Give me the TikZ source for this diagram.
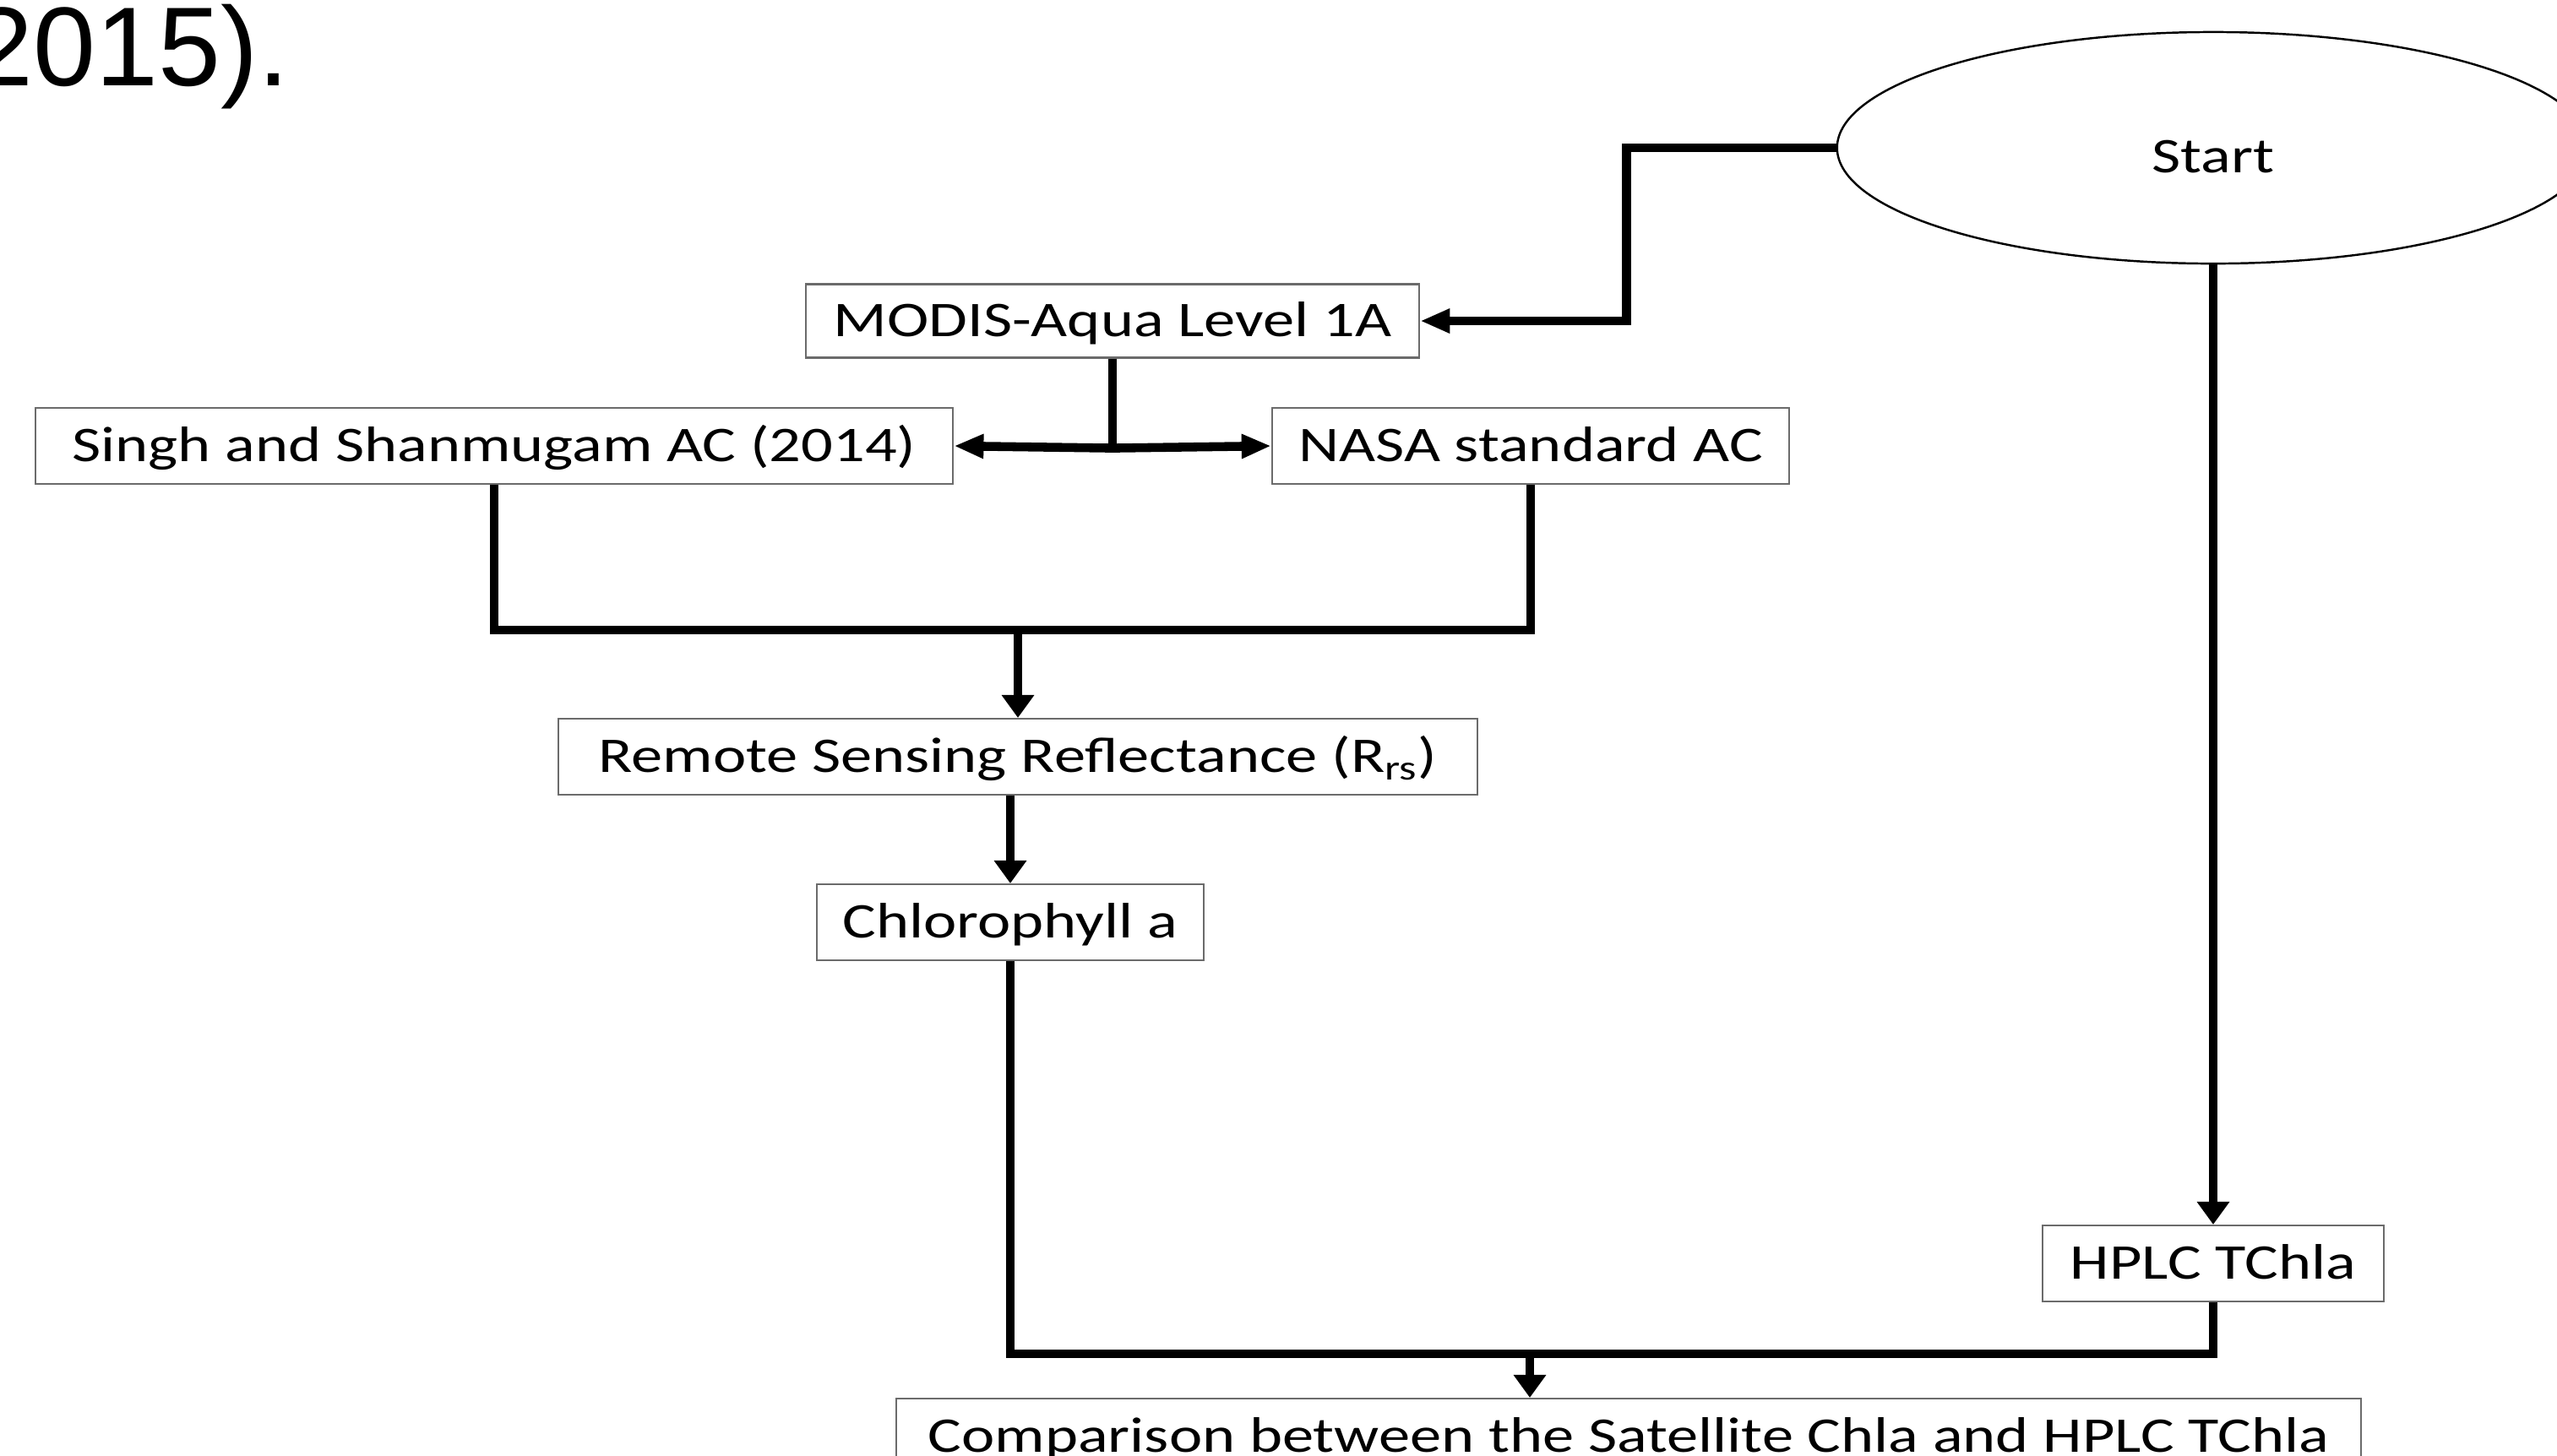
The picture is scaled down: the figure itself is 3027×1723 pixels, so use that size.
\documentclass[tikz,border=0pt]{standalone}
\usepackage{fontspec}
\setmainfont{Carlito}[FakeStretch=1.26]
\newfontfamily\headfont{Liberation Sans}
\usetikzlibrary{arrows.meta,shapes.geometric}
\tikzset{
  procbox/.style  = {draw=black!58, line width=0.6pt, fill=white, inner sep=0pt,
                     minimum height=0.9cm, text height=5mm, text depth=1.3mm,
                     font=\fontsize{16.8}{20}\selectfont},
  startnode/.style = {ellipse, draw=black, line width=0.7pt, inner sep=0pt,
                     minimum width=8.9cm, minimum height=2.74cm,
                     text height=5.8mm, text depth=0pt,
                     font=\fontsize{16.8}{20}\selectfont},
  flowline/.style = {black, line width=3pt},
  harrow/.style   = {flowline, -{Triangle[length=3.5mm,width=2.7mm]}},
  varrow/.style   = {flowline, -{Triangle[length=2.7mm,width=3.7mm]}}
}

\begin{document}
\begin{tikzpicture}[x=0.01cm,y=-0.01cm]
  \useasboundingbox (0,0) rectangle (3027,1723);
  \node[anchor=base west,inner sep=0pt,font=\headfont\fontsize{37.8}{45}\selectfont]
       (caption) at (-35,101) {2015).};
  \node[startnode] (start) at (2620,175) {Start};
  \node[procbox,minimum width=7.26cm,minimum height=0.87cm] (modis) at (1317,380) {MODIS-Aqua Level 1A};
  \node[procbox,minimum width=10.86cm] (singh) at (585,528) {Singh and Shanmugam AC (2014)};
  \node[procbox,minimum width=6.12cm] (nasa) at (1812,528) {NASA standard AC};
  \node[procbox,minimum width=10.87cm] (rrs) at (1205,896) {Remote Sensing Reflectance (R\textsubscript{rs})};
  \node[procbox,minimum width=4.58cm] (chla) at (1196,1092) {Chlorophyll a};
  \node[procbox,minimum width=4.03cm] (hplc) at (2620,1496) {HPLC TChla};
  \node[procbox,minimum width=17.33cm] (comp) at (1928,1701) {Comparison between the Satellite Chla and HPLC TChla};
  % satellite branch
  \draw[harrow] (start.west) -- ++(-248,0) |- (modis.east);
  \draw[flowline] (modis.south) -- ++(0,106) coordinate (split);
  \draw[harrow] (split) -- (singh.east);
  \draw[harrow] (split) -- (nasa.west);
  \draw[flowline] (singh.south) -- ++(0,172) coordinate (merge) -| (nasa.south);
  \draw[varrow] (merge -| rrs.north) -- (rrs.north);
  \draw[varrow] (rrs.south -| chla.north) -- (chla.north);
  % in situ branch
  \draw[varrow] (start.south) -- (hplc.north);
  \draw[flowline] (chla.south) -- ++(0,465) coordinate (join) -| (hplc.south);
  \coordinate (drop) at (1811,1602);
  \draw[varrow] (drop) -- (drop |- comp.north);
\end{tikzpicture}
\end{document}
